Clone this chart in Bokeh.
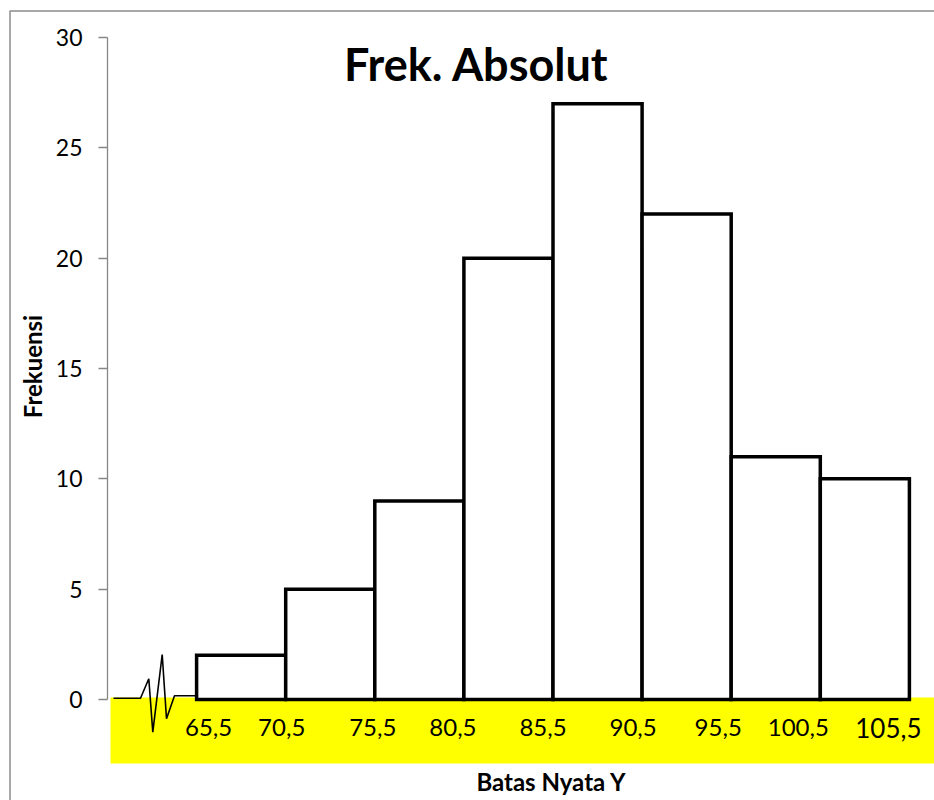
from bokeh.plotting import figure
from bokeh.models import Range1d, ColumnDataSource, FixedTicker
from bokeh.core.properties import value
from bokeh.embed import file_html
from bokeh.resources import INLINE

# ---------------- data ----------------
boundary_labels = ["65,5", "70,5", "75,5", "80,5", "85,5", "90,5", "95,5", "100,5", "105,5"]
frequencies = [2, 5, 9, 20, 27, 22, 11, 10]
y_tick_values = [0, 5, 10, 15, 20, 25, 30]

title_text = "Frek. Absolut"
y_title = "Frekuensi"
x_title = "Batas Nyata Y"

# ---------------- layout (pixel geometry of the picture) ----------------
W, H = 934, 800
AX_X = 107.0        # pixel column of the y axis (slot 0)
SLOT = 89.1         # pixels per class slot
Y0 = 699.0          # pixel row of value 0
PX_PER_UNIT = 22.067  # pixels per frequency unit

def px2x(px):
    return (px - AX_X) / SLOT

def px2y(py):
    return (Y0 - py) / PX_PER_UNIT

FONT = "Lato"

p = figure(width=W, height=H, output_backend="svg", toolbar_location=None,
           x_range=Range1d(px2x(0), px2x(W)), y_range=Range1d(px2y(H), px2y(0)),
           x_axis_location=None, min_border=0, min_border_left=0, min_border_right=0,
           min_border_top=0, min_border_bottom=0)
p.outline_line_color = None
p.xgrid.visible = False
p.ygrid.visible = False
p.background_fill_color = "white"
p.border_fill_color = "white"

# y axis, drawn at slot 0 inside the frame
yax = p.yaxis[0]
yax.fixed_location = 0
yax.bounds = (0, 30)
yax.ticker = FixedTicker(ticks=y_tick_values)
yax.minor_tick_line_color = None
yax.major_tick_in = 0
yax.major_tick_out = 9
yax.axis_line_color = "#868686"
yax.axis_line_width = 1.3
yax.major_tick_line_color = "#868686"
yax.major_tick_line_width = 1.3
yax.major_label_text_font = FONT
yax.major_label_text_font_size = "23px"
yax.major_label_text_color = "black"
yax.major_label_standoff = 16

# outer chart border (top and left visible)
p.line(x=[px2x(9.5), px2x(9.5), px2x(W + 10)], y=[px2y(H + 10), px2y(10.5), px2y(10.5)],
       line_color="#8c8c8c", line_width=1.5)

# yellow label band
p.quad(left=[px2x(110)], right=[px2x(W + 10)], top=[px2y(697)], bottom=[px2y(763)],
       fill_color="#ffff00", line_color=None)

# axis-break zigzag
brk_px = [113, 140, 148.3, 152.3, 161.7, 166, 174, 195.7]
brk_py = [697.7, 697.7, 678.3, 731.7, 654, 718.3, 695.3, 695.3]
p.line(x=[px2x(v) for v in brk_px], y=[px2y(v) for v in brk_py],
       line_color="black", line_width=1.6)

# histogram bars (slot 0 is the break; bars occupy slots 1..8)
n = len(frequencies)
bars = ColumnDataSource(dict(left=[i + 1 for i in range(n)], right=[i + 2 for i in range(n)],
                             top=frequencies, bottom=[0] * n))
p.quad(left="left", right="right", top="top", bottom="bottom", source=bars,
       fill_color="white", line_color="black", line_width=3.5, line_join="miter")

# class boundary labels in the yellow band
label_dx = [12, -4, -2, -11, -10, -9, -13, -22, -21]
label_size = ["24px"] * 8 + ["26px"]
labs = ColumnDataSource(dict(x=[k + 1 for k in range(len(boundary_labels))],
                             y=[px2y(727)] * len(boundary_labels),
                             text=boundary_labels, dx=label_dx, fs=label_size))
p.text(x="x", y="y", text="text", x_offset="dx", source=labs, text_font=value(FONT),
       text_font_size="fs", text_align="center", text_baseline="middle", text_color="black")

# title
p.text(x=[px2x(476)], y=[px2y(63)], text=[title_text], text_font=value(FONT),
       text_font_style="bold", text_font_size="45px", text_align="center",
       text_baseline="middle", text_color="black")

# axis titles
p.text(x=[px2x(32)], y=[px2y(366)], text=[y_title], angle=1.5707963, text_font=value(FONT),
       text_font_style="bold", text_font_size="24px", text_align="center",
       text_baseline="middle", text_color="black")
p.text(x=[px2x(551)], y=[px2y(781)], text=[x_title], text_font=value(FONT),
       text_font_style="bold", text_font_size="24px", text_align="center",
       text_baseline="middle", text_color="black")

open("out.html", "w").write(file_html(p, INLINE))
